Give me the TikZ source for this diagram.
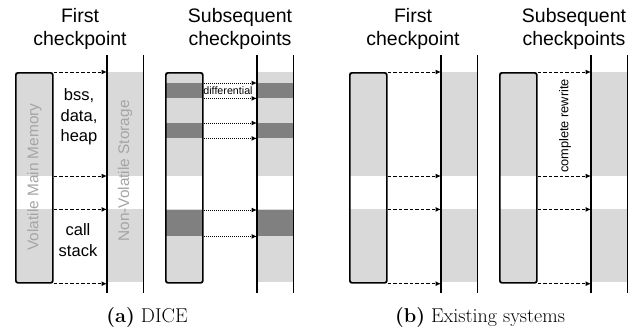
\documentclass[tikz,border=0pt]{standalone}
\usepackage{fontspec}
\newfontfamily\hv{Liberation Sans}
\usetikzlibrary{arrows.meta}
\definecolor{lg}{RGB}{217,217,217}
\definecolor{dg}{RGB}{128,128,128}
\definecolor{lbl}{RGB}{165,165,165}
\begin{document}
\begin{tikzpicture}[x=1pt,y=-1pt,
  membox/.style={draw, line width=1.7pt, rounded corners=2.2pt, minimum width=37pt, minimum height=210pt, inner sep=0pt, anchor=north west},
  storcol/.style={minimum width=36pt, minimum height=238pt, inner sep=0pt, anchor=north west},
  band/.style={fill=#1, draw=none, inner sep=0pt, anchor=north west},
  colline/.style={line width=1.3pt},
  dsh/.style={line width=1pt, dash pattern=on 3.5pt off 2pt, -{Latex[length=5.5pt,width=5pt]}},
  dtt/.style={line width=1pt, dash pattern=on 1pt off 1pt, -{Latex[length=5.5pt,width=5pt]}},
  titletext/.style={align=center, font=\hv\fontsize{19.5}{23}\selectfont, inner sep=0pt},
  bodytext/.style={align=center, font=\hv\fontsize{16.5}{20.5}\selectfont, inner sep=0pt},
  vlabel/.style={rotate=90, text=lbl, font=\hv\fontsize{15.4}{18}\selectfont, inner sep=0pt},
  smalltext/.style={font=\hv\fontsize{#1}{12}\selectfont, inner sep=0pt},
  captext/.style={font=\fontsize{20}{22}\selectfont, inner sep=0pt}]
\useasboundingbox (0,0) rectangle (637,333);

% ---------- four panels: fills ----------
\foreach \p/\xo in {1/15,2/165,3/349,4/499}{
  \begin{scope}[xshift=\xo pt]
    \node[band=lg, minimum width=37pt, minimum height=210pt] (mf\p) at (0,72) {};
    \node[band=white, minimum width=37pt, minimum height=33pt] (g\p) at (0,176) {};
    \node[band=lg, minimum width=36pt, minimum height=210pt] (sf\p) at (92,72) {};
    \node[band=white, minimum width=36pt, minimum height=33pt] (h\p) at (92,176) {};
  \end{scope}
}

% dark bands of DICE subsequent checkpoint
\node[band=dg, minimum width=37pt, minimum height=15pt] (d1) at (165,83) {};
\node[band=dg, minimum width=37pt, minimum height=15pt] (d2) at (165,123) {};
\node[band=dg, minimum width=37pt, minimum height=26pt] (d3) at (165,210) {};
\node[band=dg, minimum width=37pt, minimum height=15pt] (e1) at (256,83) {};
\node[band=dg, minimum width=37pt, minimum height=15pt] (e2) at (256,123) {};
\node[band=dg, minimum width=37pt, minimum height=26pt] (e3) at (256,210) {};

\foreach \p/\xo in {1/15,2/165,3/349,4/499}{
  \begin{scope}[xshift=\xo pt]
    \node[storcol] (s\p) at (92,55) {};
    \draw[colline] (s\p.north west) -- (s\p.south west);
    \draw[colline] (s\p.north east) -- (s\p.south east);
    \node[membox] (m\p) at (0,72) {};
  \end{scope}
}

% ---------- dashed arrows (panels 1, 3, 4) ----------
\foreach \p in {1,3,4}{
  \draw[dsh] (m\p.north east) -- (m\p.north east -| s\p.west);
  \draw[dsh] (g\p.north -| m\p.east) -- (g\p.north -| s\p.west);
  \draw[dsh] (g\p.south -| m\p.east) -- (g\p.south -| s\p.west);
  \draw[dsh] (m\p.south east) -- (m\p.south east -| s\p.west);
}

% ---------- dotted arrows (panel 2) ----------
\foreach \d in {d1,d2,d3}{
  \draw[dtt] (\d.north east) -- (\d.north east -| s2.west);
  \draw[dtt] (\d.south east) -- (\d.south east -| s2.west);
}

% ---------- texts ----------
\node[titletext] (t1) at (80,29) {First\\checkpoint};
\node[titletext] (t2) at (240,29) {Subsequent\\checkpoints};
\node[titletext] (t3) at (413,29) {First\\checkpoint};
\node[titletext] (t4) at (574,29) {Subsequent\\checkpoints};

\node[bodytext] (bss) at (79,117) {bss,\\data,\\heap};
\node[bodytext] (cs) at (78,240) {call\\stack};

\node[vlabel] (vm) at (m1.center |- 0,177) {Volatile Main Memory};
\node[vlabel] (nv) at (s1.center |- 0,171) {Non-Volatile Storage};

\node[smalltext=10.7] (dif) at (228,91) {differential};
\node[smalltext=12.8, rotate=90] (cr) at (565,126) {complete rewrite};

\node[captext] (ca) at (147,318) {\textbf{(a)} DICE};
\node[captext] (cb) at (480,318) {\textbf{(b)} Existing systems};
\end{tikzpicture}
\end{document}
